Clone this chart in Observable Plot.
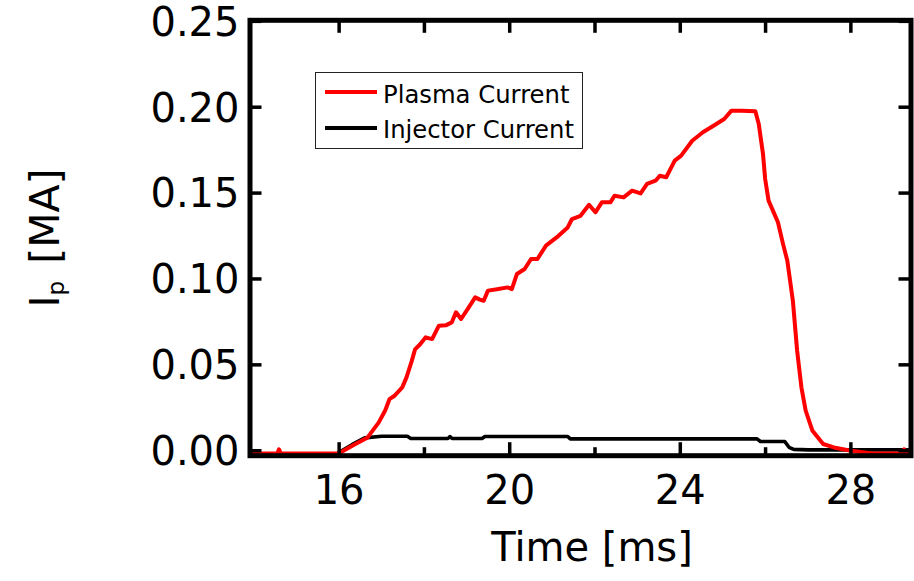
<!DOCTYPE html>
<html>
<head>
<meta charset="utf-8">
<script src="https://cdn.jsdelivr.net/npm/d3@7"></script>
<script src="https://cdn.jsdelivr.net/npm/@observablehq/plot@0.6"></script>
<style>
  html, body { margin: 0; padding: 0; background: white; }
  #wrap { position: relative; width: 914px; height: 581px; font-family: "DejaVu Sans", sans-serif; color: black; }
  #wrap svg { position: absolute; left: 0; top: 0; }
  #ylabel { position: absolute; left: 44.5px; top: 238px; transform: translate(-50%, -50%) rotate(-90deg);
            white-space: nowrap; line-height: 1; font-size: 41px; }
  #ylabel .sub { font-size: 23px; position: relative; top: 5px; margin-right: 4px; }
  #legend { position: absolute; left: 315px; top: 72px; width: 266px; height: 75px; border: 1px solid #222; background: white; }
  #legend .sw { position: absolute; left: 9px; width: 52px; height: 4px; }
  #legend .lb { position: absolute; left: 67px; font-size: 24.3px; line-height: 1; white-space: nowrap; }
</style>
</head>
<body>
<div id="wrap"></div>
<script>
// ---- data ----
const plasmaTime = [13.91, 14.55, 14.59, 14.63, 16.0, 16.05, 16.35, 16.66, 16.93, 17.08,
  17.18, 17.3, 17.48, 17.58, 17.7, 17.78, 17.9, 18.03, 18.18, 18.34,
  18.5, 18.64, 18.74, 18.86, 19.04, 19.19, 19.3, 19.39, 19.49, 19.7,
  19.95, 20.05, 20.17, 20.35, 20.5, 20.65, 20.85, 21.1, 21.36, 21.46,
  21.66, 21.86, 22.01, 22.16, 22.36, 22.46, 22.67, 22.87, 23.07, 23.22,
  23.42, 23.52, 23.67, 23.87, 24.02, 24.28, 24.53, 24.78, 25.03, 25.2,
  25.44, 25.76, 25.84, 25.94, 25.99, 26.07, 26.19, 26.29, 26.41, 26.51,
  26.64, 26.74, 26.84, 26.94, 27.1, 27.35, 27.6, 28.0, 28.5, 29.2,
  29.25, 29.3, 29.41];
const plasmaCurrent = [-0.0016, -0.0016, 0.0008, -0.0016, -0.0016, -0.0008, 0.0035, 0.0075, 0.0165, 0.0234,
  0.030, 0.032, 0.0369, 0.0427, 0.052, 0.059, 0.062, 0.066, 0.065, 0.0728,
  0.073, 0.0747, 0.0806, 0.0767, 0.0835, 0.0893, 0.088, 0.0873, 0.0932, 0.094,
  0.0951, 0.0941, 0.1029, 0.1058, 0.1116, 0.1116, 0.1194, 0.1242, 0.130, 0.1349,
  0.1368, 0.1432, 0.1388, 0.1446, 0.1446, 0.1485, 0.1475, 0.1514, 0.1498, 0.1553,
  0.1572, 0.1601, 0.1592, 0.1689, 0.1718, 0.1805, 0.1854, 0.1892, 0.1931, 0.198,
  0.198, 0.1976, 0.1902, 0.1727, 0.1582, 0.1456, 0.1388, 0.133, 0.1203, 0.1106,
  0.0873, 0.0582, 0.0369, 0.0233, 0.0116, 0.0039, 0.0019, 0.0, -0.0016, -0.0016,
  0.0008, -0.0016, -0.0016];

const injectorTime = [13.91, 15.98, 16.0, 16.3, 16.6, 17.0, 17.6, 17.68, 18.55, 18.6,
  18.65, 18.7, 19.35, 19.42, 21.36, 21.42, 25.8, 25.88, 26.45, 26.55,
  26.66, 27.0, 29.41];
const injectorCurrent = [-0.003, -0.003, -0.0009, 0.0035, 0.0075, 0.0084, 0.0084, 0.0071, 0.0071, 0.0082,
  0.0071, 0.0071, 0.0071, 0.0083, 0.0083, 0.0069, 0.0069, 0.0054, 0.0054, 0.002,
  0.0008, 0.0005, 0.0005];

const xMajorTicks = [16, 20, 24, 28];
const xMinorTicks = [18, 22, 26];
const xAllTicks = [16, 18, 20, 22, 24, 26, 28];
const yTicks = [0.00, 0.05, 0.10, 0.15, 0.20, 0.25];
const xLabel = "Time [ms]";
const seriesNames = ["Plasma Current", "Injector Current"];
const seriesColors = ["#ff0000", "#000000"];

// ---- layout ----
const W = 914, H = 581;
const mT = 19.8, mB = 125.8, mL = 249.5, mR = 3.5;
const innerH = H - mT - mB, innerW = W - mL - mR;

const chart = Plot.plot({
  width: W, height: H,
  marginTop: mT, marginBottom: mB, marginLeft: mL, marginRight: mR,
  style: { fontFamily: "DejaVu Sans, sans-serif", background: "white", color: "black", overflow: "visible" },
  x: { domain: [13.91, 29.41] },
  y: { domain: [-0.0029, 0.2506] },
  marks: [
    Plot.line(injectorCurrent, { x: injectorTime, y: d => d, stroke: seriesColors[1], strokeWidth: 3.6, strokeLinejoin: "round" }),
    Plot.line(plasmaCurrent, { x: plasmaTime, y: d => d, stroke: seriesColors[0], strokeWidth: 4, strokeLinejoin: "round" }),
    // inward ticks
    Plot.ruleX(xMajorTicks, { insetTop: innerH - 13, stroke: "black", strokeWidth: 3.5 }),
    Plot.ruleX(xMinorTicks, { insetTop: innerH - 8, stroke: "black", strokeWidth: 3.5 }),
    Plot.ruleX(xAllTicks, { insetBottom: innerH - 13, stroke: "black", strokeWidth: 3.5 }),
    Plot.ruleY(yTicks, { insetRight: innerW - 12, stroke: "black", strokeWidth: 3.5 }),
    Plot.ruleY(yTicks, { insetLeft: innerW - 12, stroke: "black", strokeWidth: 3.5 }),
    Plot.frame({ stroke: "black", strokeWidth: 5 }),
    // tick labels
    Plot.axisX(xMajorTicks, { anchor: "bottom", tickSize: 0, tickPadding: 20, fontSize: 40, label: null, fill: "black" }),
    Plot.axisY(yTicks, { anchor: "left", tickSize: 0, tickPadding: 10.5, fontSize: 40, label: null, fill: "black",
                         tickFormat: d3.format(".2f"), dy: 1.5 }),
    Plot.text([xLabel], { frameAnchor: "bottom", text: d => d, dy: 105, dx: 11.5, fontSize: 40, fill: "black" })
  ]
});

const wrap = document.getElementById("wrap");
wrap.appendChild(chart);

// y-axis label with subscript
const yl = document.createElement("div");
yl.id = "ylabel";
yl.innerHTML = 'I<span class="sub">p</span> [MA]';
wrap.appendChild(yl);

// legend
const lg = document.createElement("div");
lg.id = "legend";
const swTops = [17, 53];
const lbTops = [10.1, 45.1];
seriesNames.forEach((name, i) => {
  const sw = document.createElement("div");
  sw.className = "sw";
  sw.style.top = swTops[i] + "px";
  sw.style.background = seriesColors[i];
  lg.appendChild(sw);
  const lb = document.createElement("div");
  lb.className = "lb";
  lb.style.top = lbTops[i] + "px";
  lb.textContent = name;
  lg.appendChild(lb);
});
wrap.appendChild(lg);
</script>
</body>
</html>
